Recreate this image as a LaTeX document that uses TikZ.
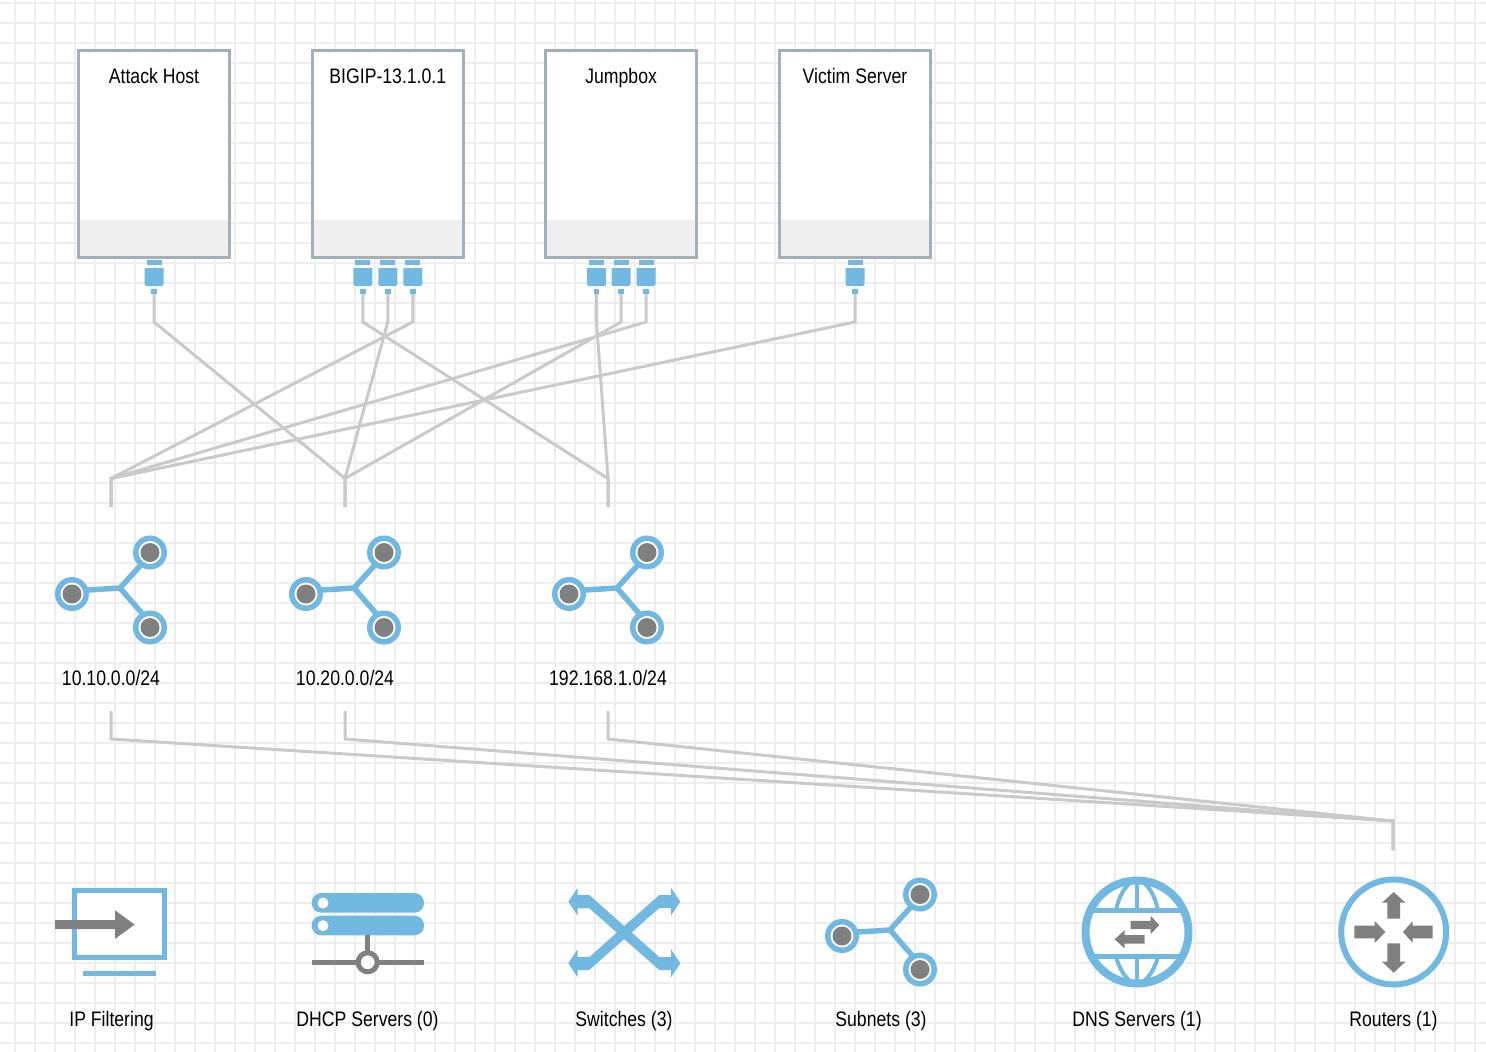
\documentclass[tikz,border=0pt]{standalone}
\usepackage{fontspec}
\setmainfont[FakeStretch=0.84]{Liberation Sans}
\usetikzlibrary{calc}
\definecolor{portblue}{HTML}{72B9E1}
\definecolor{iconblue}{HTML}{72B9E1}
\definecolor{icongray}{HTML}{808080}
\definecolor{wiregray}{HTML}{CACACA}
\definecolor{gridgray}{HTML}{EEEEEE}
\definecolor{framegray}{HTML}{A5AFB7}
\definecolor{footgray}{HTML}{EFEFEF}
\newcommand{\blockarrow}[6]{% at, angle, shaft length, head length, shaft half, head half
\fill[icongray,shift={(#1)},rotate=#2] (0,-#5) -- (#3,-#5) -- (#3,-#6) -- (#3+#4,0) -- (#3,#6) -- (#3,#5) -- (0,#5) -- cycle;}
\tikzset{
  wire/.style={draw=wiregray,line width=3pt},
  label/.style={font=\fontsize{21}{24}\selectfont,text=black,inner sep=0pt,anchor=base},
  hostbox/.style={draw=framegray,fill=white,line width=3pt,minimum width=150.6pt,minimum height=207pt,inner sep=0pt,
    path picture={\fill[footgray] (path picture bounding box.south west) rectangle ([yshift=38pt]path picture bounding box.south east);}},
  porttip/.style={fill=portblue,minimum width=5.5pt,minimum height=5pt,inner sep=0pt},
  netdot/.style={draw=iconblue,fill=white,line width=5.5pt,circle,minimum size=28.5pt,inner sep=0pt},
  portpic/.pic={
    \fill[portblue] (-7.5,-31.5) rectangle (7.5,-26.5);
    \fill[portblue] (-9.5,-23.5) -- (9.5,-23.5) [rounded corners=2pt] -- (9.5,-5.5) -- (-9.5,-5.5) [sharp corners] -- cycle;
  },
  subnetpic/.pic={
    \draw[iconblue,line width=5.5pt] (0,-3) -- (48,-6) -- (78,-39);
    \draw[iconblue,line width=5.5pt] (48,-6) -- (78,28.5);
    \foreach \dx/\dy in {0/0,78/-41.5,78/33.5}{
      \node[netdot] at (\dx,\dy) {};
      \fill[icongray] (\dx,\dy) circle (9.5);
    }
  }
}
\begin{document}
\begin{tikzpicture}[x=1pt,y=-1pt]
\useasboundingbox (0,0) rectangle (1486,1052);
\fill[white] (0,0) rectangle (1486,1052);
\foreach \gx in {15,35,...,1475} \draw[gridgray,line width=2.2pt] (\gx,0) -- (\gx,1052);
\foreach \gy in {3,23,...,1043} \draw[gridgray,line width=2.2pt] (0,\gy) -- (1486,\gy);

% hosts
\foreach \name/\cx/\txt in {attackhost/154/Attack Host,bigip/387.8/BIGIP-13.1.0.1,jumpbox/621.1/Jumpbox,victim/855/Victim Server}{
  \node[hostbox] (\name) at (\cx,154.4) {};
  \node[label] (\name-label) at (\cx,83.4) {\txt};
}

% ports
\foreach \name/\cx in {attacka/154,bigipa/362.8,bigipb/387.8,bigipc/412.8,jumpa/596.5,jumpb/621,jumpc/646,victima/855}{
  \node[porttip] (\name) at (\cx,291.5) {};
  \pic at (\name) {portpic};
}

\coordinate (neta) at (111,507);
\coordinate (netb) at (345,507);
\coordinate (netc) at (608,507);
\coordinate (netaout) at (111,711);
\coordinate (netbout) at (345,711);
\coordinate (netcout) at (608,711);
\coordinate (routerin) at (1393,850);

\foreach \from/\to in {attacka/netb,bigipa/netc,bigipb/netb,bigipc/neta,jumpa/netc,jumpb/netb,jumpc/neta,victima/neta}
  \draw[wire] (\from.south) -- (\from |- 0,322) -- (\to |- 0,478.5) -- (\to);
\foreach \from in {netaout,netbout,netcout}
  \draw[wire] (\from) -- (\from |- 0,739) -- (routerin |- 0,821) -- (routerin);

% subnets
\pic at (72,594) {subnetpic};
\pic at (306,594) {subnetpic};
\pic at (569,594) {subnetpic};
\node[label] (netalabel) at (111,685) {10.10.0.0/24};
\node[label] (netblabel) at (345,685) {10.20.0.0/24};
\node[label] (netclabel) at (608,685) {192.168.1.0/24};

% legend
\draw[iconblue,fill=white,line width=5pt] (74.8,890.8) rectangle (164.8,957.2);
\fill[iconblue] (83.3,970.7) rectangle (156.3,976.3);
\blockarrow{55,924.6}{0}{60}{19.6}{4.5}{14.3}
\node[label] (filterlabel) at (111.5,1026.9) {IP Filtering};

\fill[iconblue,rounded corners=9.5pt] (311.7,893) rectangle (424,912.7);
\fill[iconblue,rounded corners=9.5pt] (311.7,915.7) rectangle (424,935.3);
\fill[white] (323,903) circle (5.5);
\fill[white] (323,925.7) circle (5.5);
\draw[icongray,line width=5.5pt] (367.7,935) -- (367.7,955);
\draw[icongray,line width=5.5pt] (311.7,962.3) -- (424,962.3);
\draw[icongray,fill=white,line width=5pt] (367.7,962.3) circle (9.5);
\node[label] (dhcplabel) at (367.5,1026.9) {DHCP Servers (0)};

\fill[iconblue] (577,895) -- (589.3,895) -- (659.3,957) -- (672,957) -- (672,970) -- (659.3,970) -- (589.3,908.3) -- (577,908.3) -- cycle;
\fill[iconblue] (577,970) -- (589.3,970) -- (659.3,908) -- (672,908) -- (672,895) -- (659.3,895) -- (589.3,957) -- (577,957) -- cycle;
\foreach \ty in {901.7,963.3}{
  \fill[iconblue] (568.3,\ty) -- (577.7,\ty-14) -- (577.7,\ty+14) -- cycle;
  \fill[iconblue] (680.3,\ty) -- (671,\ty-14) -- (671,\ty+14) -- cycle;
}
\node[label] (switchlabel) at (624,1026.9) {Switches (3)};

\pic at (842,936) {subnetpic};
\node[label] (subnetlabel) at (881,1026.9) {Subnets (3)};

\draw[iconblue,fill=white,line width=8pt] (1137,932) circle (51.5);
\draw[iconblue,line width=5pt] (1091,910) -- (1183,910);
\draw[iconblue,line width=5pt] (1091,956.5) -- (1183,956.5);
\draw[iconblue,line width=4.5pt] (1137,880) -- (1137,910);
\draw[iconblue,line width=4.5pt] (1137,956.5) -- (1137,984);
\draw[iconblue,line width=4pt] (1116,910) .. controls (1119,897) and (1123,889) .. (1131,882);
\draw[iconblue,line width=4pt] (1158,910) .. controls (1155,897) and (1151,889) .. (1143,882);
\draw[iconblue,line width=4pt] (1116,956.5) .. controls (1119,968) and (1124,976) .. (1131,982);
\draw[iconblue,line width=4pt] (1158,956.5) .. controls (1155,968) and (1150,976) .. (1143,982);
\blockarrow{1130.7,925}{0}{20}{8.6}{4.2}{9}
\blockarrow{1144.7,939.3}{180}{20}{10}{4.2}{9.2}
\node[label] (dnslabel) at (1137,1026.9) {DNS Servers (1)};

\draw[iconblue,fill=white,line width=6pt] (1393.7,932) circle (52.5);
\blockarrow{1393.7,918.7}{90}{16}{10.7}{6.4}{11.7}
\blockarrow{1393.7,943.3}{-90}{18.4}{11}{6.4}{11.7}
\blockarrow{1354.3,932}{0}{20.4}{10.6}{6.4}{11}
\blockarrow{1432.7,932}{180}{20}{9.7}{6.4}{11}
\node[label] (routerlabel) at (1393.5,1026.9) {Routers (1)};
\end{tikzpicture}
\end{document}
